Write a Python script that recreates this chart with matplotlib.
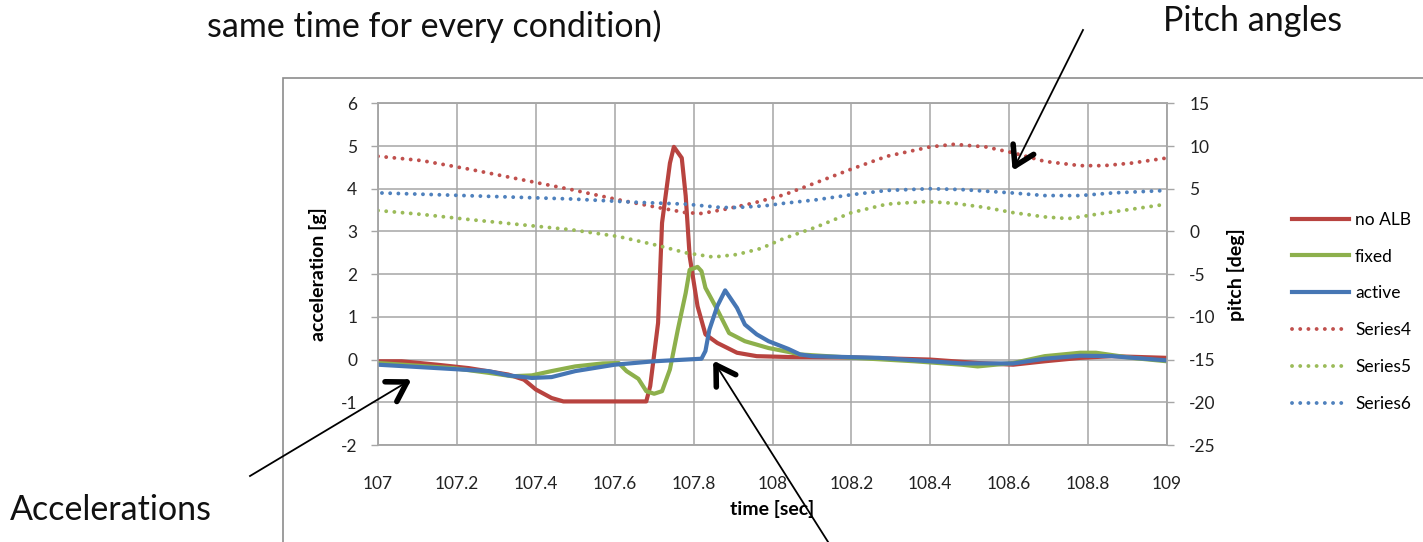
import matplotlib
matplotlib.use("Agg")
import matplotlib.pyplot as plt
from matplotlib.lines import Line2D
from matplotlib.patches import Rectangle
import math

plt.rcParams['font.family'] = ['Lato', 'DejaVu Sans']
plt.rcParams['axes.unicode_minus'] = False

# ---------------- data ----------------
t_noalb = [107.0, 107.06, 107.15, 107.23, 107.33, 107.37, 107.40, 107.44, 107.47, 107.68, 107.69,
           107.71, 107.72, 107.74, 107.75, 107.77, 107.78, 107.79, 107.81, 107.83, 107.86, 107.91,
           107.96, 108.04, 108.2, 108.4, 108.52, 108.61, 108.69, 108.78, 108.86, 109.0]
a_noalb = [-0.04, -0.04, -0.12, -0.2, -0.35, -0.47, -0.70, -0.9, -0.98, -0.98, -0.62,
           0.86, 3.2, 4.6, 4.98, 4.72, 3.83, 2.42, 1.25, 0.59, 0.39, 0.16,
           0.08, 0.06, 0.05, 0.0, -0.08, -0.12, -0.04, 0.04, 0.08, 0.04]

t_fixed = [107.0, 107.19, 107.28, 107.34, 107.39, 107.44, 107.50, 107.57, 107.61, 107.63, 107.66,
           107.68, 107.70, 107.72, 107.74, 107.76, 107.78, 107.79, 107.81, 107.82, 107.83, 107.86,
           107.89, 107.93, 107.99, 108.04, 108.07, 108.19, 108.36, 108.48, 108.52, 108.61, 108.69,
           108.78, 108.82, 108.91, 109.0]
a_fixed = [-0.08, -0.2, -0.31, -0.39, -0.37, -0.27, -0.16, -0.09, -0.08, -0.27, -0.45,
           -0.74, -0.8, -0.74, -0.23, 0.7, 1.56, 2.1, 2.17, 2.07, 1.68, 1.17,
           0.62, 0.43, 0.27, 0.18, 0.12, 0.05, -0.04, -0.12, -0.16, -0.08, 0.08,
           0.16, 0.16, 0.04, -0.04]

t_active = [107.0, 107.15, 107.28, 107.33, 107.39, 107.44, 107.50, 107.60, 107.70, 107.82, 107.83,
            107.84, 107.86, 107.88, 107.91, 107.93, 107.96, 107.99, 108.04, 108.07, 108.10, 108.27,
            108.40, 108.48, 108.61, 108.69, 108.78, 108.86, 109.0]
a_active = [-0.12, -0.2, -0.27, -0.37, -0.43, -0.41, -0.27, -0.12, -0.04, 0.02, 0.2,
            0.7, 1.25, 1.62, 1.21, 0.82, 0.59, 0.43, 0.25, 0.12, 0.08, 0.04,
            -0.04, -0.09, -0.09, 0.02, 0.09, 0.08, -0.02]

t_s4 = [107.0, 107.11, 107.23, 107.36, 107.49, 107.61, 107.71, 107.78, 107.82, 107.88, 107.95,
        108.03, 108.11, 108.2, 108.29, 108.4, 108.46, 108.54, 108.61, 108.69, 108.78, 108.84,
        108.91, 109.0]
p_s4 = [8.8, 8.3, 7.3, 6.1, 4.9, 3.7, 2.8, 2.2, 2.1, 2.6, 3.3,
        4.3, 5.7, 7.3, 8.8, 9.9, 10.2, 9.9, 9.2, 8.2, 7.7, 7.7,
        8.0, 8.6]

t_s5 = [107.0, 107.11, 107.23, 107.36, 107.49, 107.61, 107.71, 107.78, 107.85, 107.91, 107.97,
        108.03, 108.11, 108.2, 108.29, 108.39, 108.46, 108.54, 108.61, 108.69, 108.75, 108.82,
        108.91, 109.0]
p_s5 = [2.45, 2.0, 1.4, 0.8, 0.2, -0.6, -1.65, -2.5, -3.0, -2.7, -2.0,
        -0.8, 0.5, 2.2, 3.2, 3.5, 3.3, 2.8, 2.2, 1.7, 1.5, 2.0,
        2.6, 3.2]

t_s6 = [107.01, 107.15, 107.32, 107.49, 107.66, 107.78, 107.87, 107.91, 107.98, 108.03, 108.11,
        108.2, 108.29, 108.4, 108.48, 108.61, 108.69, 108.78, 108.86, 109.0]
p_s6 = [4.5, 4.3, 4.05, 3.8, 3.4, 3.2, 2.8, 2.8, 3.0, 3.3, 3.7,
        4.3, 4.8, 5.0, 4.9, 4.5, 4.2, 4.2, 4.5, 4.8]

x_ticks = [107.0, 107.2, 107.4, 107.6, 107.8, 108.0, 108.2, 108.4, 108.6, 108.8, 109.0]
x_tick_labels = ["107", "107.2", "107.4", "107.6", "107.8", "108", "108.2", "108.4", "108.6", "108.8", "109"]
acc_ticks = [-2, -1, 0, 1, 2, 3, 4, 5, 6]
pitch_ticks = [-25, -20, -15, -10, -5, 0, 5, 10, 15]
labels = ["no ALB", "fixed", "active", "Series4", "Series5", "Series6"]

# ---------------- figure ----------------
W, H = 1423, 542
fig = plt.figure(figsize=(W / 100, H / 100), dpi=100)

def fx(x):
    return x / W

def fy(y):
    return 1 - y / H

# chart area border
fig.patches.append(Rectangle((fx(283), fy(560)), fx(1500) - fx(283), fy(78) - fy(560),
                             transform=fig.transFigure, fill=False, edgecolor='#8c8c8c', lw=1.2))

L, R, T, B = 378, 1167, 103.3, 445
ax = fig.add_axes([fx(L), fy(B), fx(R) - fx(L), fy(T) - fy(B)])
ax2 = ax.twinx()

RED, GREEN, BLUE = '#C0504D', '#9BBB59', '#4F81BD'
grid_c = '#a6a6a6'
lw_solid = 3.0
dot_style = (0, (0.01, 2.1))

h1, = ax.plot(t_noalb, a_noalb, color='#B8433F', lw=lw_solid, solid_joinstyle='round', zorder=3)
h2, = ax.plot(t_fixed, a_fixed, color='#8DB04C', lw=lw_solid, solid_joinstyle='round', zorder=4)
h3, = ax.plot(t_active, a_active, color='#4676B4', lw=lw_solid, solid_joinstyle='round', zorder=5)

h4, = ax2.plot(t_s4, p_s4, color=RED, lw=2.8, linestyle=dot_style, dash_capstyle='round')
h5, = ax2.plot(t_s5, p_s5, color=GREEN, lw=2.8, linestyle=dot_style, dash_capstyle='round')
h6, = ax2.plot(t_s6, p_s6, color=BLUE, lw=2.8, linestyle=dot_style, dash_capstyle='round')

ax.set_xlim(107, 109)
ax.set_ylim(-2, 6)
ax2.set_ylim(-25, 15)
ax.set_xticks(x_ticks)
ax.set_xticklabels(x_tick_labels)
ax.set_yticks(acc_ticks)
ax2.set_yticks(pitch_ticks)

ax.grid(True, color=grid_c, lw=1.1)
ax.set_axisbelow(True)
for a in (ax, ax2):
    for s in a.spines.values():
        s.set_color(grid_c)
        s.set_linewidth(1.1)
    a.tick_params(colors='#222222', labelsize=12.5, length=5, width=1.0)
    a.tick_params(axis='both', color=grid_c)
ax.tick_params(axis='x', length=0, pad=22)
ax.tick_params(axis='y', pad=10)
ax2.tick_params(axis='y', pad=11)

ax.set_xlabel("time [sec]", fontsize=14, fontweight='bold', labelpad=6)
ax.set_ylabel("acceleration [g]", fontsize=14, fontweight='bold', labelpad=10)
ax2.set_ylabel("pitch [deg]", fontsize=14, fontweight='bold', labelpad=8)

fig.legend([h1, h2, h3, h4, h5, h6], labels, loc='upper left',
           bbox_to_anchor=(fx(1283), fy(203)), frameon=False, fontsize=12.5,
           handlelength=3.3, handletextpad=0.35, labelspacing=1.2, borderpad=0)

# annotations
tk = dict(fontsize=24.5, color='#111111')
fig.text(fx(207), fy(37), "same time for every condition)", ha='left', va='baseline', **tk)
fig.text(fx(1163), fy(31), "Pitch angles", ha='left', va='baseline', **tk)
fig.text(fx(10), fy(520), "Accelerations", ha='left', va='baseline', **tk)

def arrow(x0, y0, x1, y1, head=22):
    fig.add_artist(Line2D([fx(x0), fx(x1)], [fy(y0), fy(y1)], transform=fig.transFigure,
                          color='black', lw=1.3))
    ang = math.atan2(y0 - y1, x0 - x1)
    for d in (0.55, -0.55):
        hx = x1 + head * math.cos(ang + d)
        hy = y1 + head * math.sin(ang + d)
        fig.add_artist(Line2D([fx(x1), fx(hx)], [fy(y1), fy(hy)], transform=fig.transFigure,
                              color='black', lw=4.0, solid_capstyle='round'))

arrow(1083, 30, 1015, 166)
arrow(250, 476, 407, 382)
arrow(830, 545, 716, 365)

fig.savefig("out.png", dpi=100)
